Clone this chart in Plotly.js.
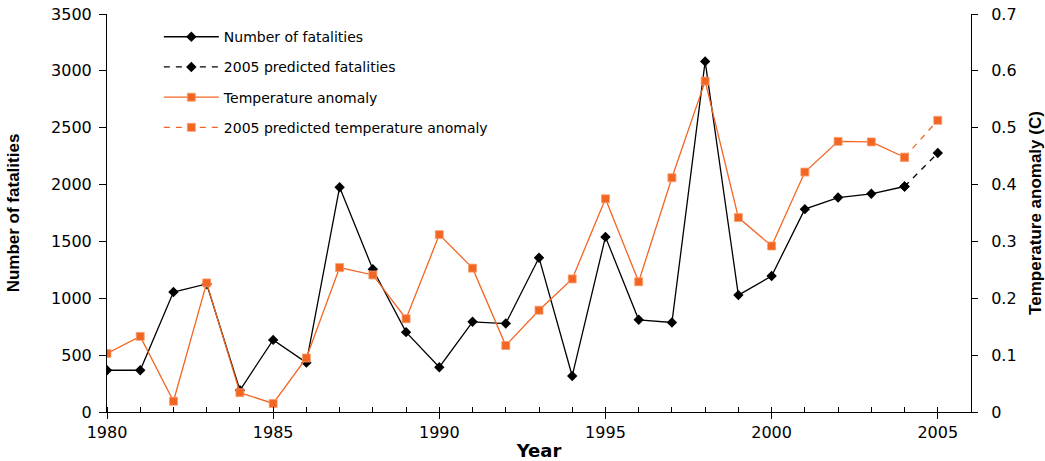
<!DOCTYPE html>
<html>
<head>
<meta charset="utf-8">
<script src="https://cdn.plot.ly/plotly-3.0.1.min.js"></script>
<style>html,body{margin:0;padding:0;background:#fff;}#chart{width:1045px;height:461px;}</style>
</head>
<body>
<div id="chart"></div>
<script>
const years = [1980,1981,1982,1983,1984,1985,1986,1987,1988,1989,1990,1991,1992,1993,1994,1995,1996,1997,1998,1999,2000,2001,2002,2003,2004];
const fatalities = [367,367,1055,1126,191,634,434,1977,1255,702,394,793,778,1357,317,1540,811,787,3083,1028,1196,1784,1886,1919,1983];
const tempAnomaly = [0.103,0.133,0.019,0.227,0.034,0.015,0.095,0.254,0.241,0.164,0.312,0.253,0.117,0.179,0.234,0.375,0.229,0.412,0.582,0.342,0.292,0.422,0.476,0.475,0.448];
const predYears = [2004,2005];
const predFatalities = [1983,2277];
const predTemp = [0.448,0.513];
const seriesNames = ['Number of fatalities','2005 predicted fatalities','Temperature anomaly','2005 predicted temperature anomaly'];
const xTickVals = [1980,1985,1990,1995,2000,2005];

const black = '#000000';
const orange = '#F26522';
const tickFont = {family:'DejaVu Sans, Verdana, sans-serif', size:16, color:'#000'};
const titleFontFamily = '"Liberation Sans Narrow", "Arial Narrow", "Liberation Sans", Arial, sans-serif';

const traces = [
  {x:years, y:fatalities, name:seriesNames[0], type:'scatter', mode:'lines+markers',
   line:{color:black, width:1.3}, marker:{symbol:'diamond', size:8, color:black},
   legendgroup:'a', xaxis:'x', yaxis:'y'},
  {x:predYears, y:predFatalities, name:seriesNames[1], type:'scatter', mode:'lines+markers',
   line:{color:black, width:1.3, dash:'6px,6px'}, marker:{symbol:'diamond', size:8, color:black},
   legendgroup:'b', xaxis:'x', yaxis:'y'},
  {x:years, y:tempAnomaly, name:seriesNames[2], type:'scatter', mode:'lines+markers',
   line:{color:orange, width:1.3}, marker:{symbol:'square', size:8, color:orange, line:{color:'#F8A070', width:0.8}},
   legendgroup:'c', xaxis:'x', yaxis:'y2'},
  {x:predYears, y:predTemp, name:seriesNames[3], type:'scatter', mode:'lines+markers',
   line:{color:orange, width:1.3, dash:'6px,6px'}, marker:{symbol:'square', size:8, color:orange, line:{color:'#F8A070', width:0.8}},
   legendgroup:'d', xaxis:'x', yaxis:'y2'}
];

const layout = {
  width:1045, height:461,
  margin:{l:107, r:74, t:14, b:49, pad:0},
  paper_bgcolor:'#fff', plot_bgcolor:'#fff',
  showlegend:true,
  legend:{x:0.06, y:0.982, xanchor:'left', yanchor:'top', bgcolor:'rgba(0,0,0,0)',
    font:{family:'DejaVu Sans, Verdana, sans-serif', size:14, color:'#000'},
    traceorder:'grouped', tracegroupgap:9, itemwidth:55},
  xaxis:{range:[1980,2006], tickmode:'array', tickvals:xTickVals, ticktext:xTickVals.map(String),
    showgrid:false, zeroline:false, showline:true, linecolor:'#000', linewidth:1,
    ticks:'outside', ticklen:6, tickcolor:'#000', tickfont:tickFont,
    minor:{dtick:1, tick0:1980, ticks:'inside', ticklen:5, tickcolor:'#000', showgrid:false},
    title:{text:'<b>Year</b>', font:{family:'DejaVu Sans, Verdana, sans-serif', size:18, color:'#000'}, standoff:3}},
  yaxis:{range:[0,3500], dtick:500, tick0:0, showgrid:false, zeroline:false, showline:true,
    linecolor:'#000', linewidth:1, ticks:'outside', ticklen:7, tickcolor:'#000', tickfont:tickFont,
    ticklabelstandoff:4,
    title:{text:'<b>Number of fatalities</b>', font:{family:titleFontFamily, size:17, color:'#000'}, standoff:27}},
  yaxis2:{range:[0,0.7], dtick:0.1, tick0:0, overlaying:'y', side:'right', showgrid:false, zeroline:false,
    showline:true, linecolor:'#000', linewidth:1, ticks:'outside', ticklen:6, tickcolor:'#000', tickfont:tickFont,
    ticklabelstandoff:10,
    title:{text:'<b>Temperature anomaly (C)</b>', font:{family:titleFontFamily, size:17, color:'#000'}, standoff:15}}
};

Plotly.newPlot('chart', traces, layout, {displayModeBar:false, staticPlot:true});
</script>
</body>
</html>
